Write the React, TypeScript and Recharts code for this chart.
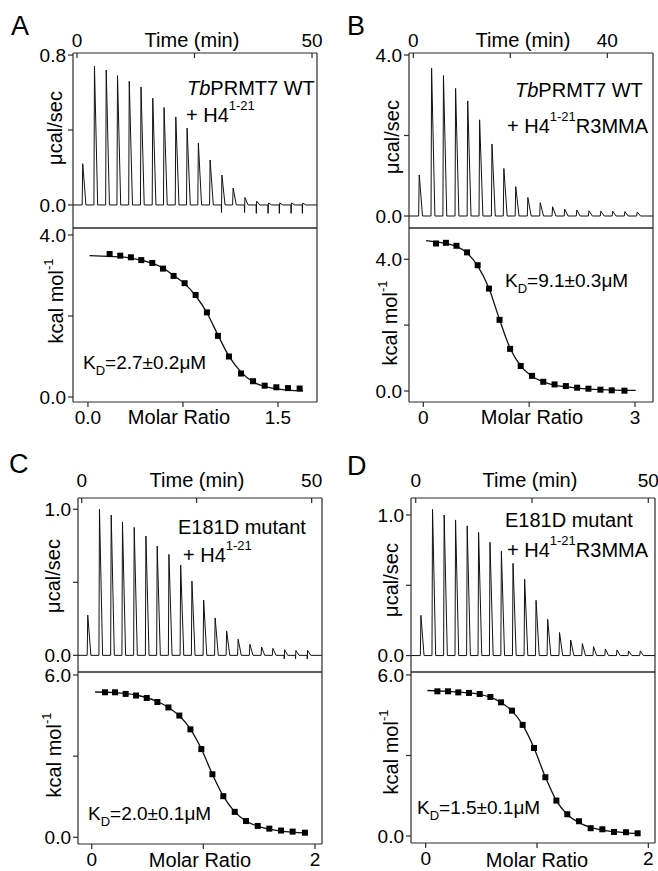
import React from 'react';
import { LineChart, ComposedChart, Line, Scatter, XAxis, YAxis } from 'recharts';

const FONT = '"Liberation Sans", Arial, Helvetica, sans-serif';
const INK = '#111';
const FRAME = '#2a2a2a';

// ---- A: TbPRMT7 WT + H4(1-21)
const injTimeA = [1.1, 3.6, 6.1, 8.5, 11.0, 13.5, 16.0, 18.4, 20.9, 23.3, 25.7, 28.2, 30.7, 33.1, 35.6, 38.1, 40.6, 43.0, 45.5, 47.9];
const peakA = [0.22, 0.74, 0.72, 0.69, 0.66, 0.63, 0.57, 0.52, 0.47, 0.41, 0.33, 0.24, 0.16, 0.09, 0.04, 0.02, 0.01, 0.01, 0.01, 0.01];
const dipA = [0, 0, 0, 0, 0, 0, 0, 0, 0, 0, 0, 0, -0.04, 0, -0.04, -0.045, -0.045, -0.045, -0.045, -0.045];
const ratioA = [0.171, 0.255, 0.339, 0.421, 0.508, 0.592, 0.676, 0.763, 0.85, 0.939, 1.026, 1.113, 1.208, 1.303, 1.395, 1.487, 1.579, 1.671];
const heatA = [3.53, 3.49, 3.45, 3.38, 3.31, 3.17, 2.99, 2.81, 2.52, 2.09, 1.51, 1.0, 0.58, 0.39, 0.28, 0.24, 0.22, 0.21];
const fitRatioA = [0.013, 0.171, 0.339, 0.508, 0.592, 0.676, 0.763, 0.85, 0.939, 1.026, 1.113, 1.208, 1.303, 1.395, 1.487, 1.579, 1.697];
const fitHeatA = [3.49, 3.47, 3.43, 3.3, 3.19, 3.0, 2.8, 2.5, 2.08, 1.53, 1.01, 0.62, 0.37, 0.26, 0.2, 0.17, 0.15];

// ---- B: TbPRMT7 WT + H4(1-21)R3MMA
const injTimeB = [1.1, 3.65, 6.1, 8.6, 11.1, 13.55, 16.1, 18.55, 21.0, 23.5, 26.05, 28.6, 31.1, 33.6, 36.1, 38.55, 41.0, 43.5, 46.05];
const peakB = [1.02, 3.67, 3.49, 3.17, 2.86, 2.39, 1.79, 1.18, 0.73, 0.46, 0.33, 0.23, 0.17, 0.15, 0.13, 0.12, 0.12, 0.11, 0.1];
const dipB = injTimeB.map(() => 0);
const ratioB = [0.18, 0.32, 0.47, 0.62, 0.77, 0.93, 1.08, 1.23, 1.38, 1.54, 1.7, 1.86, 2.02, 2.18, 2.34, 2.51, 2.67, 2.85];
const heatB = [4.48, 4.5, 4.41, 4.21, 3.82, 3.11, 2.16, 1.28, 0.76, 0.46, 0.28, 0.2, 0.15, 0.1, 0.07, 0.04, 0.02, 0.01];
const fitRatioB = [0.04, 0.18, 0.32, 0.47, 0.62, 0.77, 0.93, 1.08, 1.23, 1.38, 1.54, 1.7, 1.86, 2.02, 2.18, 2.34, 2.51, 2.67, 2.85, 3.01];
const fitHeatB = [4.57, 4.53, 4.48, 4.39, 4.19, 3.8, 3.12, 2.17, 1.3, 0.76, 0.45, 0.28, 0.18, 0.13, 0.09, 0.06, 0.04, 0.03, 0.02, 0.02];

// ---- C: E181D mutant + H4(1-21)
const injTimeC = [1.2, 3.75, 6.3, 8.75, 11.3, 13.85, 16.3, 18.85, 21.4, 23.85, 26.4, 28.9, 31.4, 33.9, 36.45, 39.0, 41.45, 44.0, 46.45, 49.0];
const peakC = [0.275, 1.0, 0.96, 0.913, 0.876, 0.817, 0.748, 0.691, 0.618, 0.508, 0.378, 0.256, 0.167, 0.11, 0.076, 0.057, 0.048, 0.039, 0.034, 0.034];
const dipC = [0, 0, 0, 0, 0, 0, 0, 0, 0, 0, 0, 0, 0, 0, 0, 0, 0, -0.025, -0.025, -0.025];
const ratioC = [0.119, 0.209, 0.304, 0.397, 0.493, 0.588, 0.687, 0.785, 0.884, 0.982, 1.081, 1.179, 1.281, 1.382, 1.487, 1.591, 1.696, 1.8, 1.91];
const heatC = [5.36, 5.36, 5.3, 5.24, 5.15, 5.0, 4.8, 4.5, 3.99, 3.26, 2.33, 1.52, 0.94, 0.6, 0.42, 0.32, 0.25, 0.21, 0.17];
const fitRatioC = [0.03, 0.209, 0.397, 0.588, 0.687, 0.785, 0.884, 0.982, 1.081, 1.179, 1.281, 1.382, 1.487, 1.591, 1.696, 1.8, 1.92];
const fitHeatC = [5.37, 5.35, 5.26, 5.02, 4.8, 4.49, 4.0, 3.27, 2.33, 1.52, 0.94, 0.6, 0.41, 0.3, 0.23, 0.19, 0.16];

// ---- D: E181D mutant + H4(1-21)R3MMA
const injTimeD = [1.0, 3.5, 6.0, 8.45, 10.95, 13.4, 15.85, 18.3, 20.8, 23.3, 25.75, 28.25, 30.8, 33.2, 35.7, 38.1, 40.65, 43.15, 45.65, 48.15];
const peakD = [0.286, 1.04, 1.0, 0.965, 0.923, 0.876, 0.806, 0.742, 0.656, 0.543, 0.393, 0.258, 0.164, 0.11, 0.085, 0.063, 0.047, 0.04, 0.033, 0.033];
const dipD = injTimeD.map(() => 0);
const ratioD = [0.105, 0.201, 0.293, 0.389, 0.485, 0.581, 0.677, 0.775, 0.871, 0.973, 1.075, 1.174, 1.272, 1.377, 1.482, 1.587, 1.692, 1.799, 1.904];
const heatD = [5.39, 5.39, 5.35, 5.33, 5.29, 5.18, 4.98, 4.67, 4.14, 3.28, 2.19, 1.32, 0.81, 0.55, 0.29, 0.25, 0.15, 0.14, 0.1];
const fitRatioD = [0.015, 0.201, 0.389, 0.485, 0.581, 0.677, 0.775, 0.871, 0.973, 1.075, 1.174, 1.272, 1.377, 1.482, 1.587, 1.692, 1.799, 1.91];
const fitHeatD = [5.42, 5.39, 5.33, 5.28, 5.17, 4.97, 4.66, 4.14, 3.28, 2.2, 1.32, 0.8, 0.5, 0.32, 0.22, 0.16, 0.12, 0.1];

// tick values and labels
const timeTicks50 = [0, 25, 50];
const timeLabels50 = ['0', '', '50'];
const timeTicks40 = [0, 20, 40];
const timeLabels40 = ['0', '', '40'];
const rawTicksA = [0, 0.4, 0.8];
const rawLabelsA = ['0.0', '', '0.8'];
const rawTicksB = [0, 2, 4];
const rawLabelsB = ['0.0', '', '4.0'];
const rawTicksCD = [0, 0.5, 1];
const rawLabelsCD = ['0.0', '', '1.0'];
const isoTicksAB = [0, 2, 4];
const isoLabelsAB = ['0.0', '', '4.0'];
const isoTicksCD = [0, 3, 6];
const isoLabelsCD = ['0.0', '', '6.0'];
const ratioTicksA = [0, 0.75, 1.5];
const ratioLabelsA = ['0.0', '', '1.5'];
const ratioTicksB = [0, 1.5, 3];
const ratioLabelsB = ['0', '', '3'];
const ratioTicksCD = [0, 1, 2];
const ratioLabelsCD = ['0', '', '2'];

type Box = { l: number; t: number; r: number; b: number };

// thermogram: sharp rise at each injection, quick return to baseline
function buildTrace(times: number[], peaks: number[], dips: number[], domain: number[]) {
  const pts = [{ t: domain[0], v: 0 }];
  times.forEach((t, i) => {
    pts.push({ t, v: 0 });
    if (dips[i]) pts.push({ t: t + 0.05, v: dips[i] });
    pts.push({ t: t + 0.12, v: peaks[i] });
    pts.push({ t: t + 0.8, v: 0 });
  });
  pts.push({ t: domain[1], v: 0 });
  return pts;
}

const zip = (xs: number[], ys: number[]) => xs.map((x, i) => ({ x, y: ys[i] }));
const fmt = (ticks: number[], labels: string[]) => (v: number) => labels[ticks.indexOf(v)] ?? '';
const tickText = { fontSize: 19, fill: '#000', fontFamily: FONT };
const frameLine = { stroke: FRAME, strokeWidth: 1.2 };

function RawPanel(props: {
  box: Box; dx: number[]; dy: number[]; xt: number[]; xl: string[]; yt: number[]; yl: string[];
  data: { t: number; v: number }[]; topMargin: number;
}) {
  const { box, dx, dy, xt, xl, yt, yl, data, topMargin } = props;
  const padL = 70, padT = 40, padR = 20, padB = 10;
  const w = box.r - box.l + padL + padR;
  const h = box.b - box.t + padT + padB;
  return (
    <div style={{ position: 'absolute', left: box.l - padL, top: box.t - padT }}>
      <LineChart width={w} height={h} data={data} margin={{ top: 0, left: 0, right: padR, bottom: padB }}>
        <XAxis xAxisId="top" orientation="top" dataKey="t" type="number" domain={dx} allowDataOverflow
          ticks={xt} tickFormatter={fmt(xt, xl)} interval={0} height={padT}
          tickSize={-5} tickMargin={topMargin} axisLine={frameLine} tickLine={frameLine} tick={tickText} />
        <XAxis xAxisId="bot" orientation="bottom" mirror type="number" domain={dx} allowDataOverflow
          ticks={xt} tick={false} tickLine={false} axisLine={frameLine} />
        <YAxis yAxisId="left" type="number" domain={dy} allowDataOverflow ticks={yt}
          tickFormatter={fmt(yt, yl)} interval={0} width={padL} tickSize={5} tickMargin={2}
          axisLine={frameLine} tickLine={frameLine} tick={tickText} />
        <YAxis yAxisId="right" orientation="right" mirror type="number" domain={dy} allowDataOverflow
          ticks={yt} tick={false} tickSize={5} axisLine={frameLine} tickLine={frameLine} />
        <Line xAxisId="top" yAxisId="left" dataKey="v" type="linear" dot={false}
          stroke={INK} strokeWidth={1} isAnimationActive={false} />
      </LineChart>
    </div>
  );
}

const Square = (p: any) => <rect x={p.cx - 3} y={p.cy - 3} width={6} height={6} fill="#000" />;

function IsoPanel(props: {
  box: Box; dx: number[]; dy: number[]; xt: number[]; xl: string[]; yt: number[]; yl: string[];
  pts: { x: number; y: number }[]; fit: { x: number; y: number }[];
}) {
  const { box, dx, dy, xt, xl, yt, yl, pts, fit } = props;
  const padL = 70, padT = 10, padR = 20, padB = 30;
  const w = box.r - box.l + padL + padR;
  const h = box.b - box.t + padT + padB;
  return (
    <div style={{ position: 'absolute', left: box.l - padL, top: box.t - padT }}>
      <ComposedChart width={w} height={h} margin={{ top: padT, left: 0, right: padR, bottom: 0 }}>
        <XAxis xAxisId="b" orientation="bottom" dataKey="x" type="number" domain={dx} allowDataOverflow
          ticks={xt} tickFormatter={fmt(xt, xl)} interval={0} height={padB} tickSize={5} tickMargin={4}
          axisLine={frameLine} tickLine={frameLine} tick={tickText} />
        <XAxis xAxisId="t" orientation="top" mirror type="number" domain={dx} allowDataOverflow
          ticks={xt} tick={false} tickSize={5} axisLine={frameLine} tickLine={frameLine} />
        <YAxis yAxisId="l" type="number" domain={dy} allowDataOverflow ticks={yt}
          tickFormatter={fmt(yt, yl)} interval={0} width={padL} tickSize={5} tickMargin={2}
          axisLine={frameLine} tickLine={frameLine} tick={tickText} />
        <YAxis yAxisId="r" orientation="right" mirror type="number" domain={dy} allowDataOverflow
          ticks={yt} tick={false} tickSize={5} axisLine={frameLine} tickLine={frameLine} />
        <Line data={fit} xAxisId="b" yAxisId="l" dataKey="y" type="monotone" dot={false}
          stroke={INK} strokeWidth={1.3} isAnimationActive={false} />
        <Scatter data={pts} xAxisId="b" yAxisId="l" dataKey="y" shape={Square} isAnimationActive={false} />
      </ComposedChart>
    </div>
  );
}

const dxRawA = [-0.85, 51.06];
const dxRawB = [-0.89, 49.42];
const dxRawC = [-0.8, 52.25];
const dxRawD = [-1.01, 51.44];

export default function App() {
  const sup = { fontSize: 13 };
  return (
    <div style={{ position: 'absolute', left: 0, top: 0, width: 658, height: 871, overflow: 'hidden', background: '#fff' }}>
      <RawPanel box={{ l: 73, t: 53, r: 317, b: 228 }} dx={dxRawA} dy={[-0.123, 0.811]}
        xt={timeTicks50} xl={timeLabels50} yt={rawTicksA} yl={rawLabelsA}
        data={buildTrace(injTimeA, peakA, dipA, dxRawA)} topMargin={11} />
      <IsoPanel box={{ l: 73, t: 228, r: 317, b: 402 }} dx={[-0.118, 1.808]} dy={[-0.123, 4.173]}
        xt={ratioTicksA} xl={ratioLabelsA} yt={isoTicksAB} yl={isoLabelsAB}
        pts={zip(ratioA, heatA)} fit={zip(fitRatioA, fitHeatA)} />

      <RawPanel box={{ l: 409, t: 53, r: 653, b: 228 }} dx={dxRawB} dy={[-0.298, 4.05]}
        xt={timeTicks40} xl={timeLabels40} yt={rawTicksB} yl={rawLabelsB}
        data={buildTrace(injTimeB, peakB, dipB, dxRawB)} topMargin={11} />
      <IsoPanel box={{ l: 409, t: 228, r: 653, b: 402 }} dx={[-0.203, 3.255]} dy={[-0.334, 4.95]}
        xt={ratioTicksB} xl={ratioLabelsB} yt={isoTicksAB} yl={isoLabelsAB}
        pts={zip(ratioB, heatB)} fit={zip(fitRatioB, fitHeatB)} />

      <RawPanel box={{ l: 78, t: 498, r: 322, b: 672 }} dx={dxRawC} dy={[-0.114, 1.077]}
        xt={timeTicks50} xl={timeLabels50} yt={rawTicksCD} yl={rawLabelsCD}
        data={buildTrace(injTimeC, peakC, dipC, dxRawC)} topMargin={16} />
      <IsoPanel box={{ l: 78, t: 672, r: 322, b: 844 }} dx={[-0.123, 2.063]} dy={[-0.248, 6.11]}
        xt={ratioTicksCD} xl={ratioLabelsCD} yt={isoTicksCD} yl={isoLabelsCD}
        pts={zip(ratioC, heatC)} fit={zip(fitRatioC, fitHeatC)} />

      <RawPanel box={{ l: 411, t: 498, r: 655, b: 672 }} dx={dxRawD} dy={[-0.117, 1.121]}
        xt={timeTicks50} xl={timeLabels50} yt={rawTicksCD} yl={rawLabelsCD}
        data={buildTrace(injTimeD, peakD, dipD, dxRawD)} topMargin={16} />
      <IsoPanel box={{ l: 411, t: 672, r: 655, b: 843 }} dx={[-0.132, 2.06]} dy={[-0.261, 6.11]}
        xt={ratioTicksCD} xl={ratioLabelsCD} yt={isoTicksCD} yl={isoLabelsCD}
        pts={zip(ratioD, heatD)} fit={zip(fitRatioD, fitHeatD)} />

      <svg width={658} height={871} style={{ position: 'absolute', left: 0, top: 0, pointerEvents: 'none' }}
        fontFamily={FONT} fontSize={20} fill="#000">
        <text x={11} y={35} fontSize={27}>A</text>
        <text x={347} y={35} fontSize={27}>B</text>
        <text x={9} y={473} fontSize={27}>C</text>
        <text x={347} y={475} fontSize={27}>D</text>

        <text x={192} y={47} textAnchor="middle">Time (min)</text>
        <text x={523} y={47} textAnchor="middle">Time (min)</text>
        <text x={197} y={487} textAnchor="middle">Time (min)</text>
        <text x={530} y={487} textAnchor="middle">Time (min)</text>

        <text x={179} y={424} textAnchor="middle">Molar Ratio</text>
        <text x={532} y={424} textAnchor="middle">Molar Ratio</text>
        <text x={200} y={867} textAnchor="middle">Molar Ratio</text>
        <text x={537} y={867} textAnchor="middle">Molar Ratio</text>

        <text transform="translate(55,128) rotate(-90)" textAnchor="middle" dominantBaseline="central">μcal/sec</text>
        <text transform="translate(392,137) rotate(-90)" textAnchor="middle" dominantBaseline="central">μcal/sec</text>
        <text transform="translate(53,576) rotate(-90)" textAnchor="middle" dominantBaseline="central">μcal/sec</text>
        <text transform="translate(391,580) rotate(-90)" textAnchor="middle" dominantBaseline="central">μcal/sec</text>

        <text transform="translate(56,301) rotate(-90)" textAnchor="middle" dominantBaseline="central">
          kcal mol<tspan {...sup} dy={-8}>-1</tspan>
        </text>
        <text transform="translate(390,323) rotate(-90)" textAnchor="middle" dominantBaseline="central">
          kcal mol<tspan {...sup} dy={-8}>-1</tspan>
        </text>
        <text transform="translate(54,755) rotate(-90)" textAnchor="middle" dominantBaseline="central">
          kcal mol<tspan {...sup} dy={-8}>-1</tspan>
        </text>
        <text transform="translate(391,752) rotate(-90)" textAnchor="middle" dominantBaseline="central">
          kcal mol<tspan {...sup} dy={-8}>-1</tspan>
        </text>

        <text x={187} y={95}><tspan fontStyle="italic">Tb</tspan>PRMT7 WT</text>
        <text x={186} y={122}>+ H4<tspan {...sup} dy={-12}>1-21</tspan></text>
        <text x={515} y={97}><tspan fontStyle="italic">Tb</tspan>PRMT7 WT</text>
        <text x={507} y={133}>+ H4<tspan {...sup} dy={-12}>1-21</tspan><tspan dy={12}>R3MMA</tspan></text>
        <text x={178} y={534}>E181D mutant</text>
        <text x={183} y={562}>+ H4<tspan {...sup} dy={-12}>1-21</tspan></text>
        <text x={505} y={527}>E181D mutant</text>
        <text x={507} y={557}>+ H4<tspan {...sup} dy={-12}>1-21</tspan><tspan dy={12}>R3MMA</tspan></text>

        <text x={83} y={369} fontSize={19}>K<tspan {...sup} dy={6}>D</tspan><tspan dy={-6}>=2.7±0.2μM</tspan></text>
        <text x={505} y={287} fontSize={19}>K<tspan {...sup} dy={6}>D</tspan><tspan dy={-6}>=9.1±0.3μM</tspan></text>
        <text x={88} y={820} fontSize={19}>K<tspan {...sup} dy={6}>D</tspan><tspan dy={-6}>=2.0±0.1μM</tspan></text>
        <text x={417} y={814} fontSize={19}>K<tspan {...sup} dy={6}>D</tspan><tspan dy={-6}>=1.5±0.1μM</tspan></text>
      </svg>
    </div>
  );
}
